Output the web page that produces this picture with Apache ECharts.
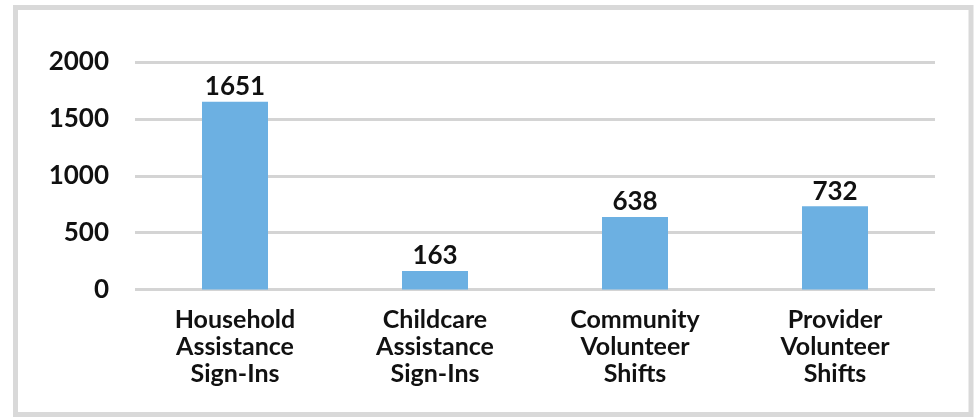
<!DOCTYPE html>
<html>
<head>
<meta charset="utf-8">
<script src="https://cdn.jsdelivr.net/npm/echarts@6/dist/echarts.min.js"></script>
<style>
html,body{margin:0;padding:0;background:#fff;}
#chart{width:976px;height:417px;}
</style>
</head>
<body>
<div id="chart"></div>
<script>
const categories = ["Household\nAssistance\nSign-Ins", "Childcare\nAssistance\nSign-Ins", "Community\nVolunteer\nShifts", "Provider\nVolunteer\nShifts"];
const values = [1651, 163, 638, 732];
const yTicks = [0, 500, 1000, 1500, 2000];

const FONT = "Lato";
const chart = echarts.init(document.getElementById('chart'));
chart.setOption({
  animation: false,
  backgroundColor: '#ffffff',
  graphic: [{
    type: 'rect',
    shape: { x: 15.5, y: 7.5, width: 955.5, height: 407 },
    style: { fill: 'none', stroke: '#d9d9d9', lineWidth: 5 },
    silent: true
  }],
  grid: { left: 135, right: 41, top: 62, bottom: 127.5, containLabel: false },
  xAxis: {
    type: 'category',
    data: categories,
    axisLine: { show: false },
    axisTick: { show: false },
    axisLabel: {
      interval: 0,
      margin: 17,
      fontFamily: FONT,
      fontWeight: 'bold',
      fontSize: 25,
      lineHeight: 27,
      color: '#111'
    }
  },
  yAxis: {
    type: 'value',
    min: yTicks[0],
    max: yTicks[yTicks.length - 1],
    interval: 500,
    axisLine: { show: false },
    axisTick: { show: false },
    axisLabel: {
      margin: 26,
      fontFamily: FONT,
      fontWeight: 'bold',
      fontSize: 26,
      color: '#111',
      formatter: function (v) { return String(v); }
    },
    splitLine: { lineStyle: { color: '#d4d4d4', width: 3 } }
  },
  series: [{
    type: 'bar',
    data: values,
    barWidth: 66,
    itemStyle: { color: '#6cb0e2' },
    label: {
      show: true,
      position: 'top',
      distance: 2,
      fontFamily: FONT,
      fontWeight: 'bold',
      fontSize: 26,
      color: '#111'
    }
  }]
});
</script>
</body>
</html>
